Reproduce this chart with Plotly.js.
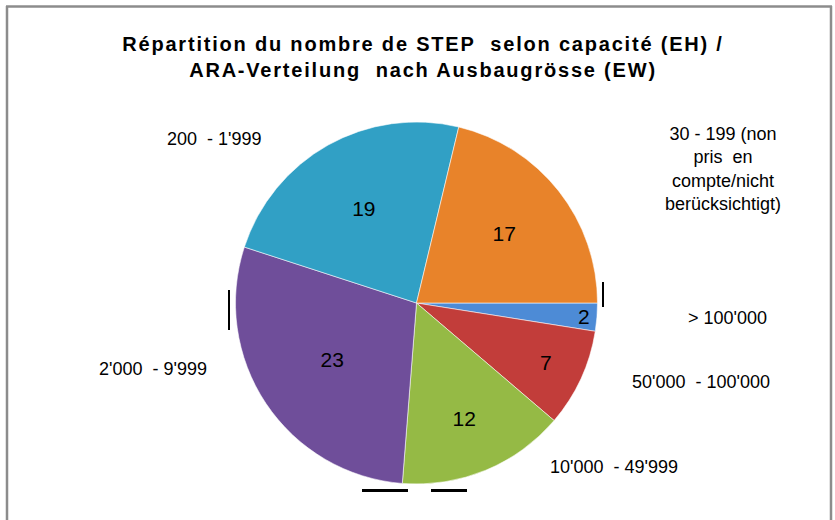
<!DOCTYPE html>
<html>
<head>
<meta charset="utf-8">
<script src="https://cdn.plot.ly/plotly-3.0.1.min.js"></script>
<style>
html, body { margin: 0; padding: 0; background: #fff; }
#chart { width: 835px; height: 520px; }
.gtitle { letter-spacing: 1.8px; }
</style>
</head>
<body>
<div id="chart"></div>
<script>
// ---- data ----
const categories = [">100'000", "50'000 - 100'000", "10'000 - 49'999", "2'000 - 9'999", "200 - 1'999", "30 - 199 (non pris en compte/nicht berücksichtigt)"];
const counts = [2, 7, 12, 23, 19, 17];
const categoryLabels = ["> 100'000", "50'000\u00A0 - 100'000", "10'000\u00A0 - 49'999", "2'000\u00A0 - 9'999", "200\u00A0 - 1'999", "30 - 199 (non<br>pris\u00A0 en<br>compte/nicht<br>berücksichtigt)"];
const titleText = "Répartition du nombre de STEP\u00A0 selon capacité (EH) /<br>ARA-Verteilung\u00A0 nach Ausbaugrösse (EW)";

// ---- styles / layout ----
const sliceColors = ["#4d8bd6", "#c23d3a", "#95ba45", "#6f4e9a", "#31a0c5", "#e8832a"];
const labelPos = [[727, 318], [701, 382], [614, 467], [153, 369], [215, 139], [723, 169]];
const W = 835, H = 520;
const FONT = "Liberation Sans, Arial, sans-serif";

const annotations = categoryLabels.map((t, i) => ({
  text: t, showarrow: false, xref: 'paper', yref: 'paper',
  x: labelPos[i][0] / W, y: 1 - labelPos[i][1] / H,
  xanchor: 'center', yanchor: 'middle', align: 'center',
  font: { family: FONT, size: 18, color: '#000' }
}));

function hline(x0, x1, y, w) {
  return { type: 'line', xref: 'paper', yref: 'paper', x0: x0 / W, x1: x1 / W, y0: 1 - y / H, y1: 1 - y / H, line: { color: '#000', width: w } };
}
function vline(x, y0, y1, w, c) {
  return { type: 'line', xref: 'paper', yref: 'paper', x0: x / W, x1: x / W, y0: 1 - y0 / H, y1: 1 - y1 / H, line: { color: c || '#000', width: w } };
}

const shapes = [
  // chart frame (no bottom edge)
  vline(7, 6, 530, 2.5, '#8c8c8c'),
  vline(831, 6, 530, 2.5, '#8c8c8c'),
  { type: 'line', xref: 'paper', yref: 'paper', x0: 6 / W, x1: 832 / W, y0: 1 - 6.5 / H, y1: 1 - 6.5 / H, line: { color: '#8c8c8c', width: 2.5 } },
  // small dark marks around the pie
  vline(229, 290, 330, 2),
  vline(603, 282, 307, 2),
  hline(362, 408, 490.5, 3),
  hline(431, 467, 490.5, 3)
];

const trace = {
  type: 'pie',
  labels: categories,
  values: counts,
  sort: false,
  direction: 'clockwise',
  rotation: 90,
  marker: { colors: sliceColors, line: { color: 'rgba(255,255,255,0.55)', width: 1 } },
  textinfo: 'value',
  textposition: 'inside',
  insidetextorientation: 'horizontal',
  textfont: { family: FONT, size: 21, color: '#000' },
  domain: { x: [(416.5 - 181) / W, (416.5 + 181) / W], y: [1 - 484 / H, 1 - 122 / H] },
  hoverinfo: 'none',
  showlegend: false
};

const layout = {
  width: W, height: H,
  margin: { l: 0, r: 0, t: 0, b: 0 },
  paper_bgcolor: '#fff',
  showlegend: false,
  uniformtext: { mode: 'show', minsize: 21 },
  title: {
    text: titleText,
    font: { family: FONT, size: 20, color: '#000', weight: 'bold' },
    x: 423 / W, xanchor: 'center', xref: 'paper',
    y: 1 - 51 / H, yanchor: 'middle', yref: 'container'
  },
  annotations: annotations,
  shapes: shapes
};

Plotly.newPlot('chart', [trace], layout, { staticPlot: true, displayModeBar: false });
</script>
</body>
</html>
